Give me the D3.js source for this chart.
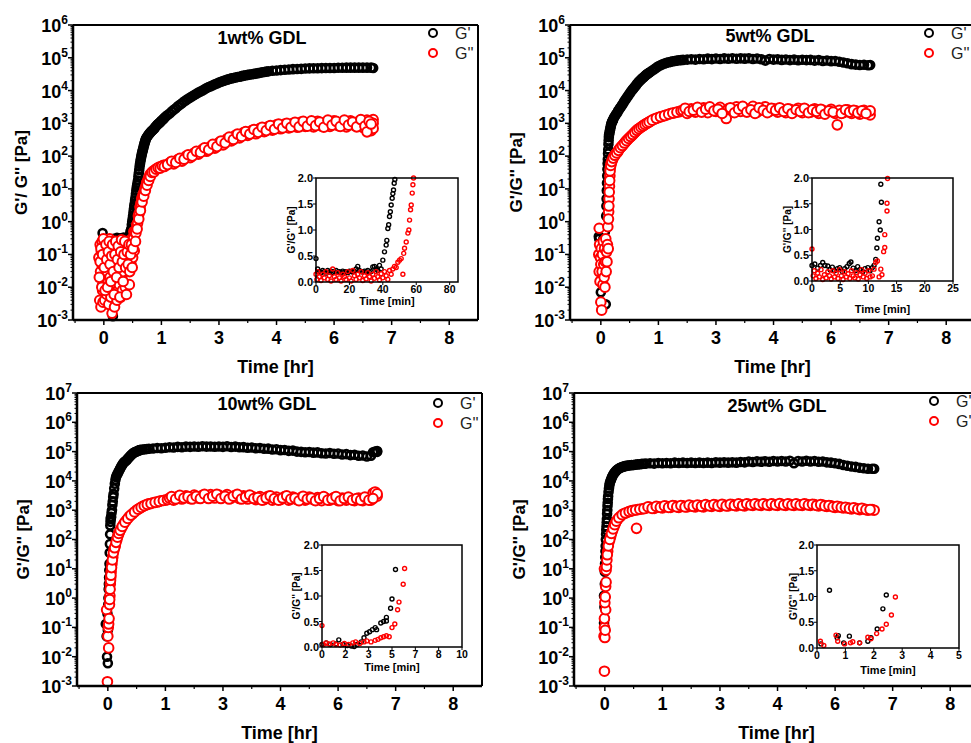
<!DOCTYPE html>
<html>
<head>
<meta charset="utf-8">
<script src="https://cdn.jsdelivr.net/npm/d3@7"></script>
<style>
  body { margin: 0; background: #fff; }
  svg text { font-family: "Liberation Sans", Arial, sans-serif; }
</style>
</head>
<body>
<svg id="chart" width="971" height="743"></svg>
<script>
"use strict";

// ---- labels ----
var panelTitles = ["1wt% GDL", "5wt% GDL", "10wt% GDL", "25wt% GDL"];
var seriesNames = ["G'", "G''"];
var mainTimeTicks = [0, 1.4, 2.8, 4.2, 5.6, 7.0, 8.4];
var mainTimeLabels = ["0", "1", "3", "4", "6", "7", "8"];
var decadesTop = [-3, -2, -1, 0, 1, 2, 3, 4, 5, 6];
var decadesBottom = [-3, -2, -1, 0, 1, 2, 3, 4, 5, 6, 7];
var insetYTicks = [0, 0.5, 1.0, 1.5, 2.0];
var inset1Ticks = [0, 20, 40, 60, 80];
var inset2Ticks = [0, 5, 10, 15, 20, 25];
var inset3Ticks = [0, 1.667, 3.333, 5, 6.667, 8.333, 10];
var inset3Labels = ["0", "2", "3", "5", "7", "8", "10"];
var inset4Ticks = [0, 1, 2, 3, 4, 5];

// ---- main series: [time hr, modulus Pa] ----
var p1Gp = [[-0.03,0.45],[-0.02,0.27],[-0.04,0.011],[0,0.12],[0.03,0.05],[0.06,0.2],[0.1,0.08],[0.14,0.15],[0.18,0.03],[0.22,0.0013],[0.24,0.3],[0.28,0.28],[0.32,0.32],[0.36,0.3],[0.4,0.31],[0.44,0.29],[0.48,0.33],[0.52,0.31],[0.56,0.3],[0.6,0.34],[0.63,0.4],
  [0.65,0.5],[0.67,0.6],[0.69,1.0],[0.71,1.5],[0.73,2.4],[0.75,3.6],[0.77,5.5],[0.79,9],[0.81,13],[0.83,18],[0.85,30],[0.87,48],[0.89,70],[0.91,96],[0.93,125],[0.95,155],[0.97,200],[0.99,245],[1.01,300],[1.03,350],[1.07,420],[1.11,490],[1.15,560],[1.19,630],[1.23,700],[1.28,850],[1.32,950],[1.36,1050],[1.4,1200],[1.45,1350],[1.5,1600],
  [0.66,0.55],[0.68,0.8],[0.7,1.2],[0.72,1.9],[0.74,3],[0.76,4.5],[0.78,7],[0.8,11],[0.82,15],[0.84,24],[0.86,38],[0.88,58],[0.9,82],[0.92,110],[0.94,140],[0.96,175],[0.98,220],[1.0,270],[1.02,325],[1.05,385],[1.09,455],[1.13,525],[1.17,595],[1.21,665],[1.25,770],[1.3,900],[1.34,1000],[1.38,1120],[1.43,1280],[1.47,1450],
  [1.6,2000],[1.7,2600],[1.8,3300],[1.9,4100],[2.0,5100],[2.1,6100],[2.2,7300],[2.3,8700],[2.4,10000],[2.5,12000],[2.6,13500],[2.7,15500],[2.8,17500],[2.9,19500],[3.0,21500],[3.1,23500],[3.2,25000],[3.3,26500],[3.4,28500],[3.5,30000],[3.6,31500],[3.7,33000],[3.8,35000],[3.9,37000],[4.0,38500],[4.1,40000],[4.2,41000],[4.3,42000],[4.4,43000],[4.5,44000],[4.6,45000],[4.7,45500],[4.8,46000],[4.9,47000],[5.0,47500],[5.1,48000],[5.2,48000],[5.3,48500],[5.4,49000],[5.5,49000],[5.6,49000],[5.7,49500],[5.8,49500],[5.9,50000],[6.0,50000],[6.1,50000],[6.2,50000],[6.3,50000],[6.4,50000],[6.5,50000],[6.55,49000],
  [1.55,1800],[1.65,2300],[1.75,2900],[1.85,3700],[1.95,4600],[2.05,5600],[2.15,6700],[2.25,8000],[2.35,9300],[2.45,11000],[2.55,12800],[2.65,14500],[2.75,16500],[2.85,18500],[2.95,20500],[3.05,22500],[3.15,24200],[3.25,25800],[3.35,27500],[3.45,29200],[3.55,30800],[3.65,32200],[3.75,34000],[3.85,36000],[3.95,37800]];
var p1Gpp = [[-0.12,0.08],[-0.1,0.004],[-0.09,0.2],[-0.08,0.03],[-0.07,0.0025],[-0.06,0.12],[-0.05,0.05],[-0.04,0.25],[-0.03,0.008],[-0.02,0.0035],[-0.01,0.06],[0,0.18],[0,0.02],[0.01,0.1],[0.02,0.004],[0.03,0.28],[0.04,0.012],[0.05,0.045],[0.06,0.15],[0.07,0.006],[0.08,0.03],[0.09,0.22],[0.1,0.09],[0.11,0.015],[0.12,0.003],[0.13,0.06],[0.14,0.3],[0.15,0.02],[0.16,0.1],[0.17,0.005],[0.18,0.04],[0.19,0.18],[0.2,0.0016],[0.21,0.07],[0.22,0.25],[0.23,0.01],[0.24,0.035],[0.25,0.12],[0.26,0.0025],[0.27,0.007],[0.28,0.2],[0.29,0.05],[0.3,0.015],[0.31,0.09],[0.32,0.004],[0.33,0.025],[0.34,0.15],[0.35,0.008],[0.36,0.06],[0.37,0.22],[0.38,0.012],[0.39,0.035],[0.4,0.1],[0.41,0.005],[0.42,0.18],[0.43,0.02],[0.44,0.05],[0.45,0.008],[0.46,0.12],[0.47,0.03],[0.48,0.2],[0.5,0.07],[0.52,0.01],[0.54,0.15],[0.56,0.04],[0.58,0.25],[0.6,0.1],[0.62,0.012],[0.64,0.18],[0.66,0.05],[0.68,0.3],[0.7,0.08],[0.72,0.3],[0.74,0.13],
  [-0.11,0.02],[-0.09,0.06],[-0.07,0.15],[-0.05,0.01],[-0.03,0.1],[-0.01,0.3],[0.01,0.04],[0.03,0.008],[0.05,0.2],[0.07,0.07],[0.09,0.01],[0.11,0.12],[0.13,0.25],[0.15,0.05],[0.17,0.015],[0.19,0.09],[0.21,0.2],[0.23,0.03],[0.25,0.006],[0.27,0.1],[0.29,0.25],[0.31,0.02],[0.33,0.07],[0.35,0.18],[0.37,0.04],[0.39,0.005],[0.41,0.12],[0.43,0.28],[0.45,0.06],[0.47,0.015],[0.49,0.1],[0.51,0.25],[0.53,0.04],[0.55,0.006],[0.57,0.12],[0.59,0.05],[0.61,0.2],[0.63,0.03],[0.65,0.1],[0.67,0.2],[0.69,0.04],[0.71,0.15],[0.73,0.5],
  [0.76,0.5],[0.78,0.45],[0.8,0.8],[0.82,0.9],[0.84,1.5],[0.86,1.8],[0.88,2.8],[0.9,3.6],[0.92,5],[0.94,5.8],[0.96,7],[0.98,8],[1.0,10],[1.02,12],[1.04,15],[1.06,17],[1.08,20],[1.1,23],[1.12,27],[1.15,30],[1.2,35],[1.25,38],[1.3,42],[1.35,46],[1.4,48],[1.45,52],[1.5,53],
  [0.77,0.25],[0.81,0.6],[0.85,1.2],[0.89,2.2],[0.93,4],[0.97,6],[1.01,9],[1.05,13],[1.09,18],[1.13,24],[1.17,32],[1.22,33],[1.27,40],[1.32,44],[1.37,43],[1.42,50],[1.47,48],
  [1.6,62],[1.7,58],[1.8,78],[1.9,70],[2.0,100],[2.1,90],[2.2,125],[2.3,115],[2.4,160],[2.5,140],[2.6,200],[2.7,175],[2.8,260],[2.9,220],[3.0,340],[3.1,290],[3.2,430],[3.3,360],[3.4,520],[3.5,430],[3.6,600],[3.7,480],[3.8,700],[3.9,560],[4.0,800],[4.1,620],[4.2,900],[4.3,680],[4.4,950],[4.5,720],[4.6,1000],[4.7,760],[4.8,1100],[4.9,800],[5.0,1050],[5.1,780],[5.2,1150],[5.3,820],[5.4,1100],[5.5,800],[5.6,1200],[5.7,850],[5.8,1100],[5.9,780],[6.0,1200],[6.1,850],[6.2,1150],[6.3,750],[6.4,1250],[6.5,600],[6.55,1300],[6.55,1000],[6.55,700],
  [1.55,55],[1.65,70],[1.75,64],[1.85,85],[1.95,80],[2.05,110],[2.15,100],[2.25,140],[2.35,130],[2.45,180],[2.55,155],[2.65,230],[2.75,195],[2.85,290],[2.95,250],[3.05,380],[3.15,320],[3.25,470],[3.35,400],[3.45,560],[3.55,470],[3.65,650],[3.75,530],[3.85,760],[3.95,600],[4.05,850],[4.15,660],[4.25,950],[4.35,720],[4.45,1000],[4.55,760],[4.65,1080],[4.75,780],[4.85,1150],[4.95,820],[5.05,1200],[5.15,850],[5.25,1100],[5.35,760],[5.45,1250],[5.55,880],[5.65,1150],[5.75,800],[5.85,1250],[5.95,880],[6.05,1100],[6.15,780],[6.25,1300],[6.35,820],[6.4,550],[6.45,1150],[6.5,950]];

var p2Gp = [[-0.05,0.35],[-0.04,0.3],[-0.03,0.03],[-0.02,0.2],[0,0.007],[0.02,0.1],[0.04,0.05],[0.06,0.3],[0.08,0.2],[0.1,0.5],[0.12,0.003],[0.13,1.5],[0.14,5],[0.15,15],[0.16,40],[0.17,80],[0.18,160],[0.19,300],[0.2,450],[0.22,600],[0.24,800],[0.26,1000],[0.28,1150],[0.3,1300],[0.35,1700],[0.4,2100],[0.45,2700],[0.5,3300],[0.55,4200],[0.6,5200],[0.65,6500],[0.7,8000],[0.75,9800],[0.8,11700],[0.85,14000],[0.9,17000],[0.95,20000],[1.0,23000],[1.05,26000],[1.1,30000],[1.15,33000],[1.2,37000],[1.3,45000],[1.4,55000],[1.5,63000],[1.6,70000],[1.7,75000],[1.8,80000],[1.9,84000],[2.0,86000],[2.1,88000],[2.2,90000],[2.3,88000],[2.4,92000],[2.5,90000],[2.6,94000],[2.7,91000],[2.8,95000],[2.9,92000],[3.0,96000],[3.1,93000],[3.2,97000],[3.3,93000],[3.4,96000],[3.5,94000],[3.6,97000],[3.7,92000],[3.8,95000],[3.9,90000],[4.0,82000],[4.1,92000],[4.2,88000],[4.3,90000],[4.4,86000],[4.5,89000],[4.6,85000],[4.7,88000],[4.8,84000],[4.9,87000],[5.0,85000],[5.1,86000],[5.2,82000],[5.3,85000],[5.4,80000],[5.5,83000],[5.6,79000],[5.7,80000],[5.8,76000],[5.9,72000],[6.0,68000],[6.1,64000],[6.2,62000],[6.3,60000],[6.4,61000],[6.5,59000],[6.55,60000],
  [0.135,3],[0.145,9],[0.155,25],[0.165,60],[0.175,120],[0.185,230],[0.195,380],[0.21,520],[0.23,700],[0.25,900],[0.27,1080],[0.29,1220],[0.32,1500],[0.37,1900],[0.42,2400],[0.47,3000],[0.52,3700],[0.57,4700],[0.62,5800],[0.67,7200],[0.72,8900],[0.77,10700],[0.82,12800],[0.87,15500],[0.92,18500],[0.97,21500],[1.02,24500],[1.07,28000],[1.12,31500],[1.17,35000],[1.25,41000],[1.35,50000],[1.45,59000],[1.55,67000],[1.65,73000],[1.75,78000],[1.85,82000],[1.95,85000]];
var p2Gpp = [[-0.05,0.1],[-0.04,0.63],[-0.04,0.03],[-0.03,0.2],[-0.02,0.015],[-0.01,0.08],[0,0.0035],[0,0.05],[0.01,0.15],[0.02,0.002],[0.03,0.03],[0.04,0.1],[0.05,0.012],[0.06,0.25],[0.07,0.05],[0.08,0.02],[0.09,0.15],[0.1,0.01],[0.11,0.06],[0.12,0.3],[0.13,0.03],[0.14,0.12],[0.15,0.06],[0.16,0.2],[0.17,0.7],[0.18,0.15],[0.19,2],[0.2,5],[0.21,12],[0.22,25],[0.23,45],[0.25,60],[0.28,76],[0.32,98],[0.36,115],[0.41,135],[0.45,165],[0.5,195],[0.55,230],[0.6,270],[0.65,320],[0.7,370],[0.75,420],[0.8,490],[0.85,570],[0.9,650],[0.95,720],[1.0,800],[1.05,880],[1.1,970],[1.15,1050],[1.2,1150],[1.3,1350],[1.4,1500],[1.5,1650],[1.6,1800],[1.7,2000],[1.8,2100],[1.9,2250],
  [0.185,1.2],[0.195,3],[0.205,8],[0.215,18],[0.225,35],[0.24,52],[0.265,68],[0.3,87],[0.34,106],[0.385,125],[0.43,150],[0.475,180],[0.525,210],[0.575,250],[0.625,295],[0.675,345],[0.725,395],[0.775,455],[0.825,530],[0.875,610],[0.925,685],[0.975,760],[1.025,840],[1.075,925],[1.125,1010],[1.175,1100],[1.25,1250],[1.35,1420],[1.45,1580],[1.55,1720],[1.65,1900],[1.75,2050],[1.85,2200],[1.95,2400],
  [2.0,2500],[2.1,2000],[2.2,2800],[2.3,2200],[2.4,2600],[2.5,3000],[2.6,2100],[2.7,2700],[2.8,2300],[2.9,3100],[3.0,2200],[3.05,1400],[3.1,2800],[3.2,2400],[3.3,3200],[3.4,2300],[3.5,2900],[3.6,2500],[3.7,3300],[3.8,2200],[3.9,2700],[4.0,3200],[4.1,2300],[4.2,2800],[4.3,2200],[4.4,2600],[4.5,2100],[4.6,2700],[4.7,2300],[4.8,2900],[4.9,2100],[5.0,2600],[5.1,2200],[5.2,2800],[5.3,2000],[5.4,2500],[5.5,2200],[5.6,2700],[5.75,900],[5.7,2000],[5.8,2500],[5.9,2100],[6.0,2600],[6.1,2000],[6.2,2400],[6.3,1900],[6.4,2500],[6.5,2200],[6.55,1800],[6.55,2400],
  [2.05,2900],[2.15,2300],[2.25,2500],[2.35,3100],[2.45,2200],[2.55,2700],[2.65,3200],[2.75,2400],[2.85,2700],[2.95,2000],[3.15,3000],[3.25,2100],[3.35,2700],[3.45,3300],[3.55,2200],[3.65,2600],[3.75,2000],[3.85,3000],[3.95,2500],[4.05,2100],[4.15,2900],[4.25,2500],[4.35,3000],[4.45,2300],[4.55,2800],[4.65,2000],[4.75,2600],[4.85,2300],[4.95,2900],[5.05,2100],[5.15,2600],[5.25,2300],[5.35,2700],[5.45,1900],[5.55,2400],[5.65,2200],[5.85,2000],[5.95,2600],[6.05,2200],[6.15,2500],[6.25,2100],[6.35,2400],[6.45,2000]];

var p3Gp = [[-0.02,0.01],[0,0.006],[-0.05,0.13],[-0.03,0.05],[-0.01,0.3],[0,0.08],[0.01,0.6],[0.02,2],[0.03,5],[0.04,15],[0.05,70],[0.06,300],[0.07,500],[0.08,600],[0.1,1000],[0.12,2000],[0.14,3600],[0.17,8000],[0.2,13500],[0.24,18000],[0.28,23000],[0.32,30000],[0.36,37000],[0.4,44000],[0.45,50000],[0.5,60000],[0.55,72000],[0.6,85000],[0.65,95000],[0.7,100000],[0.75,110000],[0.8,115000],[0.9,120000],[1.0,125000],
  [0.015,1],[0.025,3],[0.035,9],[0.045,35],[0.055,150],[0.065,400],[0.075,550],[0.09,800],[0.11,1500],[0.13,2800],[0.155,5500],[0.185,11000],[0.22,16000],[0.26,20500],[0.3,26500],[0.34,33500],[0.38,40500],[0.425,47000],[0.475,55000],[0.525,66000],[0.575,78000],[0.625,90000],[0.675,98000],[0.725,105000],[0.775,112000],[0.85,118000],[0.95,122000],
  [1.1,128000],[1.2,132000],[1.3,130000],[1.4,135000],[1.5,140000],[1.6,138000],[1.7,145000],[1.8,140000],[1.9,148000],[2.0,145000],[2.1,150000],[2.2,146000],[2.3,152000],[2.4,148000],[2.5,150000],[2.6,146000],[2.7,150000],[2.8,145000],[2.9,152000],[3.0,144000],[3.1,148000],[3.2,140000],[3.3,142000],[3.4,135000],[3.5,138000],[3.6,130000],[3.7,132000],[3.8,125000],[3.9,126000],[4.0,118000],[4.1,120000],[4.2,112000],[4.3,114000],[4.4,106000],[4.5,108000],[4.6,100000],[4.7,98000],[4.8,95000],[4.9,97000],[5.0,92000],[5.1,94000],[5.2,88000],[5.3,86000],[5.4,90000],[5.5,84000],[5.6,86000],[5.7,80000],[5.8,82000],[5.9,76000],[6.0,78000],[6.1,72000],[6.2,74000],[6.3,68000],[6.4,72000],[6.45,95000],[6.5,100000],[6.55,105000],[6.55,98000]];
var p3Gpp = [[-0.01,0.0014],[-0.03,0.4],[0,0.05],[0.01,0.1],[0.02,0.02],[0.02,0.13],[0.03,0.2],[0.04,0.6],[0.05,1.2],[0.06,3],[0.07,5],[0.08,8],[0.1,15],[0.12,25],[0.15,45],[0.18,60],[0.22,100],[0.25,140],[0.28,180],[0.32,230],[0.38,330],[0.45,450],[0.52,600],[0.6,750],[0.7,1000],[0.77,1150],[0.85,1350],[0.92,1500],[1.0,1650],[1.1,1800],[1.2,1900],[1.3,2100],[1.4,2200],
  [0.045,0.9],[0.055,2],[0.065,4],[0.075,6],[0.09,11],[0.11,20],[0.135,35],[0.165,52],[0.2,80],[0.235,120],[0.265,160],[0.3,205],[0.35,280],[0.415,390],[0.485,520],[0.56,680],[0.65,870],[0.735,1080],[0.81,1250],[0.885,1420],[0.96,1580],[1.05,1700],[1.15,1850],[1.25,2000],[1.35,2150],[1.45,2300],
  [1.5,2600],[1.6,2200],[1.7,2900],[1.8,2400],[1.9,3100],[2.0,2500],[2.1,3300],[2.2,2600],[2.3,3200],[2.4,2700],[2.5,3400],[2.6,2600],[2.7,3300],[2.8,2700],[2.9,3400],[3.0,2600],[3.1,3200],[3.2,2500],[3.3,3100],[3.4,2400],[3.5,3000],[3.6,2300],[3.7,2900],[3.8,2300],[3.9,3000],[4.0,2200],[4.1,2800],[4.2,2300],[4.3,2900],[4.4,2200],[4.5,2800],[4.6,2300],[4.7,2700],[4.8,2200],[4.9,2800],[5.0,2300],[5.1,2700],[5.2,2100],[5.3,2600],[5.4,2200],[5.5,2700],[5.6,2100],[5.7,2600],[5.8,2200],[5.9,2500],[6.0,2100],[6.1,2600],[6.2,2100],[6.3,2500],[6.4,2200],[6.45,3800],[6.5,4200],[6.55,3000],[6.55,3600],
  [1.55,2900],[1.65,2400],[1.75,3200],[1.85,2600],[1.95,2900],[2.05,2400],[2.15,3000],[2.25,2500],[2.35,3500],[2.45,2500],[2.55,3000],[2.65,3500],[2.75,2500],[2.85,3000],[2.95,2400],[3.05,3000],[3.15,3500],[3.25,2400],[3.35,2800],[3.45,3300],[3.55,2500],[3.65,2700],[3.75,2200],[3.85,2600],[3.95,3100],[4.05,2500],[4.15,2200],[4.25,2600],[4.35,3100],[4.45,2400],[4.55,2600],[4.65,2100],[4.75,3000],[4.85,2400],[4.95,2600],[5.05,2100],[5.15,2500],[5.25,2900],[5.35,2200],[5.45,2400],[5.55,2900],[5.65,2100],[5.75,2500],[5.85,2800],[5.95,2200],[6.05,2500],[6.15,2200],[6.25,2800],[6.35,2200],[6.45,2500]];

var p4Gp = [[-0.02,0.14],[-0.01,0.5],[-0.02,1.2],[0,3],[-0.01,0.2],[0,8],[0.01,25],[0.02,60],[0.03,150],[0.04,280],[0.05,500],[0.06,1000],[0.07,1800],[0.08,3000],[0.1,5500],[0.12,8300],[0.15,11000],[0.18,14000],[0.22,18000],[0.26,21000],[0.3,24000],[0.35,27000],[0.4,29000],[0.46,31000],[0.52,32500],[0.6,34000],[0.7,35000],[0.8,36500],[0.9,38000],[1.0,39000],
  [0.005,15],[0.015,40],[0.025,100],[0.035,210],[0.045,380],[0.055,750],[0.065,1400],[0.075,2400],[0.09,4200],[0.11,7000],[0.135,9700],[0.165,12500],[0.2,16000],[0.24,19500],[0.28,22500],[0.325,25500],[0.375,28000],[0.43,30000],[0.49,32000],[0.56,33500],[0.65,34500],[0.75,36000],[0.85,37000],[0.95,38500],
  [1.1,40000],[1.2,39000],[1.3,41000],[1.4,40000],[1.5,41000],[1.6,40000],[1.7,42000],[1.8,41000],[1.9,42000],[2.0,41000],[2.1,42000],[2.2,41000],[2.3,42000],[2.4,41000],[2.5,42000],[2.6,41000],[2.7,43000],[2.8,42000],[2.9,43000],[3.0,42000],[3.1,43000],[3.2,42000],[3.3,44000],[3.4,43000],[3.5,46000],[3.6,44000],[3.7,47000],[3.8,45000],[3.9,47000],[4.0,45000],[4.1,48000],[4.2,46000],[4.3,48000],[4.4,46000],[4.5,49000],[4.6,40000],[4.7,48000],[4.8,46000],[4.9,49000],[5.0,46000],[5.1,48000],[5.2,45000],[5.3,46000],[5.4,43000],[5.5,42000],[5.6,40000],[5.7,38000],[5.8,35000],[5.9,33000],[6.0,31000],[6.1,30000],[6.2,28000],[6.3,27000],[6.4,26000],[6.5,26000],[6.55,26000]];
var p4Gpp = [[-0.01,0.0032],[-0.02,0.05],[-0.01,0.1],[0,0.045],[0.01,0.08],[-0.01,0.2],[0.02,0.4],[0,0.7],[0.01,1.1],[0.02,2.5],[0.03,3.5],[-0.01,10],[0.03,9],[0.04,12],[0.05,20],[0.07,40],[0.1,80],[0.14,125],[0.18,190],[0.22,275],[0.26,370],[0.3,470],[0.38,620],[0.46,760],[0.55,850],[0.63,930],[0.71,1000],[0.77,240],[0.8,1050],[0.9,1100],[1.0,1170],
  [0.06,30],[0.085,60],[0.12,100],[0.16,160],[0.2,230],[0.24,320],[0.28,420],[0.34,550],[0.42,700],[0.5,800],[0.59,900],[0.67,970],[0.75,1020],[0.85,1080],[0.95,1130],
  [1.1,1250],[1.2,1150],[1.3,1300],[1.4,1200],[1.5,1350],[1.6,1250],[1.7,1400],[1.8,1250],[1.9,1400],[2.0,1300],[2.1,1400],[2.2,1300],[2.3,1450],[2.4,1300],[2.5,1450],[2.6,1350],[2.7,1500],[2.8,1350],[2.9,1500],[3.0,1400],[3.1,1550],[3.2,1400],[3.3,1550],[3.4,1400],[3.5,1600],[3.6,1450],[3.7,1600],[3.8,1450],[3.9,1600],[4.0,1450],[4.1,1600],[4.2,1450],[4.3,1600],[4.4,1450],[4.5,1600],[4.6,1450],[4.7,1550],[4.8,1450],[4.9,1600],[5.0,1450],[5.1,1550],[5.2,1400],[5.3,1500],[5.4,1350],[5.5,1400],[5.6,1250],[5.7,1300],[5.8,1200],[5.9,1200],[6.0,1100],[6.1,1150],[6.2,1050],[6.3,1100],[6.4,1000],[6.5,1050],[6.55,1000],
  [1.05,1300],[1.15,1150],[1.25,1350],[1.35,1250],[1.45,1400],[1.55,1250],[1.65,1450],[1.75,1300],[1.85,1450],[1.95,1300],[2.05,1500],[2.15,1350],[2.25,1500],[2.35,1350],[2.45,1550],[2.55,1400],[2.65,1550],[2.75,1400],[2.85,1600],[2.95,1400],[3.05,1600],[3.15,1450],[3.25,1650],[3.35,1450],[3.45,1650],[3.55,1500],[3.65,1650],[3.75,1500],[3.85,1650],[3.95,1500],[4.05,1650],[4.15,1500],[4.25,1700],[4.35,1500],[4.45,1650],[4.55,1500],[4.65,1650],[4.75,1500],[4.85,1650],[4.95,1500],[5.05,1600],[5.15,1450],[5.25,1550],[5.35,1400],[5.45,1450],[5.55,1300],[5.65,1350],[5.75,1250],[5.85,1250],[5.95,1150],[6.05,1200],[6.15,1100],[6.25,1150],[6.35,1050],[6.45,1050]];

// ---- inset series: [time min, modulus Pa] ----
var i1Gp = [[0,0.45],[1,0.25],[2,0.2],[3,0.18],[4,0.22],[5,0.2],[6,0.17],[7,0.22],[8,0.19],[9,0.21],[10,0.18],[11,0.2],[12,0.22],[13,0.19],[14,0.2],[15,0.18],[16,0.21],[17,0.19],[18,0.2],[19,0.18],[20,0.21],[21,0.2],[22,0.19],[23,0.21],[24,0.25],[25,0.3],[26,0.22],[27,0.2],[28,0.19],[29,0.21],[30,0.2],[31,0.22],[32,0.19],[33,0.2],[34,0.29],[35,0.3],[36,0.25],[37,0.22],[38,0.32],[39,0.25],[40,0.42],[41,0.58],[42,0.71],[42.4,0.8],[43,1.03],[43.5,1.1],[44,1.26],[44.5,1.35],[45,1.48],[45.6,1.61],[46,1.7],[46.4,1.77],[46.8,1.9],[47.2,1.97]];
var i1Gpp = [[0,0.15],[0.5,0.05],[1,0.2],[2,0.1],[3,0.03],[4,0.15],[5,0.08],[6,0.2],[7,0.05],[8,0.12],[9,0.02],[10,0.25],[11,0.1],[12,0.05],[13,0.18],[14,0.08],[15,0.02],[16,0.15],[17,0.1],[18,0.05],[19,0.2],[20,0.08],[21,0.02],[22,0.22],[23,0.12],[24,0.05],[25,0.15],[26,0.08],[27,0.2],[28,0.03],[29,0.12],[30,0.06],[31,0.18],[32,0.1],[33,0.02],[34,0.15],[35,0.07],[36,0.2],[37,0.1],[38,0.04],[39,0.16],[40,0.08],[41,0.2],[42,0.12],[43,0.05],[44,0.22],[45,0.15],[46,0.25],[47,0.3],[48,0.28],[49,0.38],[50,0.42],[51,0.45],[52,0.15],[52.5,0.55],[53,0.65],[54,0.77],[55,0.94],[55.6,1.0],[56,1.19],[56.6,1.39],[57,1.48],[57.6,1.71],[58,1.87],[58.4,2.0]];
var i2Gp = [[0,0.3],[0.5,0.33],[1,0.25],[1.5,0.3],[1.9,0.36],[2.3,0.3],[2.8,0.29],[3.2,0.22],[3.6,0.27],[4,0.2],[4.5,0.24],[4.9,0.26],[5.4,0.18],[5.8,0.24],[6.2,0.28],[6.6,0.34],[6.9,0.37],[7.3,0.25],[7.7,0.2],[8.1,0.28],[8.5,0.22],[9,0.18],[9.4,0.24],[9.9,0.26],[10.3,0.2],[10.7,0.26],[11,0.3],[11.3,0.42],[11.5,0.64],[11.6,0.83],[12.1,0.99],[11.9,1.15],[12.3,1.53],[12.2,1.88]];
var i2Gpp = [[0,0.62],[0.2,0.1],[0.4,0.2],[0.7,0.05],[1,0.15],[1.3,0.08],[1.6,0.22],[1.9,0.03],[2.2,0.12],[2.5,0.06],[2.8,0.18],[3.1,0.1],[3.4,0.04],[3.7,0.2],[4,0.08],[4.3,0.15],[4.6,0.05],[4.9,0.22],[5.2,0.1],[5.5,0.03],[5.8,0.18],[6.1,0.08],[6.4,0.14],[6.7,0.05],[7,0.2],[7.3,0.1],[7.6,0.06],[7.9,0.16],[8.2,0.04],[8.5,0.12],[8.8,0.22],[9.1,0.08],[9.4,0.15],[9.7,0.05],[10,0.2],[10.3,0.08],[10.7,0.1],[11,0.23],[11.3,0.36],[11.6,0.39],[11.9,0.08],[12.2,0.23],[12.4,0.12],[12.7,0.57],[12.9,0.65],[12.9,0.9],[13.3,1.36],[13.3,1.51],[13.4,1.99]];
var i3Gp = [[0,0.05],[0.3,0.08],[0.6,0.05],[1,0.06],[1.2,0.14],[1.5,0.05],[1.8,0.03],[2.1,0.02],[2.3,0.01],[2.5,0.05],[2.8,0.1],[3,0.18],[3.2,0.27],[3.4,0.3],[3.6,0.34],[3.8,0.38],[3.9,0.34],[4.2,0.47],[4.4,0.5],[4.6,0.51],[4.6,0.58],[4.9,0.76],[5.0,0.94],[5.25,1.52]];
var i3Gpp = [[0,0.42],[0.1,0.05],[0.3,0.08],[0.5,0.06],[0.8,0.08],[1,0.05],[1.3,0.04],[1.6,0.07],[1.9,0.05],[2.2,0.08],[2.4,0.1],[2.7,0.07],[3,0.1],[3.2,0.12],[3.5,0.1],[3.8,0.13],[4.0,0.15],[4.2,0.18],[4.4,0.2],[4.6,0.22],[4.8,0.2],[5.0,0.38],[5.2,0.45],[5.4,0.73],[5.5,0.88],[5.8,1.23],[5.9,1.54]];
var i4Gp = [[0.14,0.08],[0.44,1.12],[0.71,0.2],[0.75,0.24],[0.94,0.1],[1.14,0.23],[1.5,0.1],[1.79,0.13],[1.9,0.2],[2.12,0.37],[2.32,0.76],[2.44,1.03]];
var i4Gpp = [[0.12,0.13],[0.24,0.05],[0.67,0.25],[0.73,0.13],[0.97,0.08],[1.18,0.1],[1.26,0.12],[1.5,0.1],[1.79,0.21],[1.9,0.18],[2.1,0.28],[2.29,0.37],[2.44,0.46],[2.62,0.64],[2.76,0.99]];

var svg = d3.select("#chart");
var RED = "#ff0000";

var panels = [
  { title: panelTitles[0], gp: p1Gp, gpp: p1Gpp, left: 73, top: 25, bottom: 320, decades: decadesTop,
    yTitle: "G'/ G'' [Pa]", yTitleX: 21, titleX: 262, titleY: 44, legX: 433, legY: 33,
    inset: { gp: i1Gp, gpp: i1Gpp, left: 316, right: 458, top: 178, bottom: 282, max: 85,
             ticks: inset1Ticks, labels: null, yTitleX: 291, xTitleY: 305 } },
  { title: panelTitles[1], gp: p2Gp, gpp: p2Gpp, left: 570, top: 25, bottom: 320, decades: decadesTop,
    yTitle: "G'/G'' [Pa]", yTitleX: 516, titleX: 770, titleY: 42, legX: 929, legY: 33,
    inset: { gp: i2Gp, gpp: i2Gpp, left: 812, right: 953, top: 178, bottom: 281, max: 25,
             ticks: inset2Ticks, labels: null, yTitleX: 787, xTitleY: 313 } },
  { title: panelTitles[2], gp: p3Gp, gpp: p3Gpp, left: 77, top: 393, bottom: 686, decades: decadesBottom,
    yTitle: "G'/G'' [Pa]", yTitleX: 23, titleX: 267, titleY: 410, legX: 438, legY: 403,
    inset: { gp: i3Gp, gpp: i3Gpp, left: 322, right: 462, top: 545, bottom: 647, max: 10,
             ticks: inset3Ticks, labels: inset3Labels, yTitleX: 296, xTitleY: 671 } },
  { title: panelTitles[3], gp: p4Gp, gpp: p4Gpp, left: 574, top: 393, bottom: 686, decades: decadesBottom,
    yTitle: "G'/G'' [Pa]", yTitleX: 519, titleX: 777, titleY: 412, legX: 934, legY: 401,
    inset: { gp: i4Gp, gpp: i4Gpp, left: 817, right: 959, top: 545, bottom: 648, max: 5,
             ticks: inset4Ticks, labels: null, yTitleX: 793, xTitleY: 674 } }
];

function drawPanel(p) {
  var w = 405;
  var x = d3.scaleLinear().domain([-0.75, 9.1]).range([p.left, p.left + w]);
  var y = d3.scaleLog()
      .domain([Math.pow(10, p.decades[0]), Math.pow(10, p.decades[p.decades.length - 1])])
      .range([p.bottom, p.top]);
  var g = svg.append("g");

  // data: G' first, G'' drawn over it
  g.append("g").selectAll("circle").data(p.gp).enter().append("circle")
    .attr("cx", function (d) { return x(d[0]); })
    .attr("cy", function (d) { return y(d[1]); })
    .attr("r", 4).attr("fill", "none").attr("stroke", "#000").attr("stroke-width", 2.6);
  g.append("g").selectAll("circle").data(p.gpp).enter().append("circle")
    .attr("cx", function (d) { return x(d[0]); })
    .attr("cy", function (d) { return y(d[1]); })
    .attr("r", 4.8).attr("fill", "#fff").attr("stroke", RED).attr("stroke-width", 2);

  // frame
  var right = p.left + w;
  g.append("line").attr("x1", p.left).attr("x2", right).attr("y1", p.top).attr("y2", p.top)
    .attr("stroke", "#000").attr("stroke-width", 2);
  g.append("line").attr("x1", right).attr("x2", right).attr("y1", p.top).attr("y2", p.bottom)
    .attr("stroke", "#000").attr("stroke-width", 2);
  g.append("line").attr("x1", p.left).attr("x2", right).attr("y1", p.bottom).attr("y2", p.bottom)
    .attr("stroke", "#000").attr("stroke-width", 2.5);
  g.append("line").attr("x1", p.left).attr("x2", p.left).attr("y1", p.top).attr("y2", p.bottom)
    .attr("stroke", "#000").attr("stroke-width", 2.5);

  // y axis ticks and labels
  p.decades.forEach(function (k, i) {
    var yy = y(Math.pow(10, k));
    g.append("line").attr("x1", p.left - 5).attr("x2", p.left).attr("y1", yy).attr("y2", yy)
      .attr("stroke", "#000").attr("stroke-width", 1.5);
    if (i < p.decades.length - 1) {
      for (var m = 2; m < 10; m++) {
        var ym = y(m * Math.pow(10, k));
        g.append("line").attr("x1", p.left - 2.5).attr("x2", p.left).attr("y1", ym).attr("y2", ym)
          .attr("stroke", "#000").attr("stroke-width", 1);
      }
    }
    var t = g.append("text").attr("x", p.left - 5).attr("y", yy + 7)
      .attr("text-anchor", "end").attr("font-size", 18).attr("font-weight", "bold").text("10");
    t.append("tspan").attr("dy", -8).attr("font-size", 12).text(String(k));
  });

  // x axis ticks and labels
  mainTimeTicks.forEach(function (v, i) {
    g.append("line").attr("x1", x(v)).attr("x2", x(v)).attr("y1", p.bottom).attr("y2", p.bottom + 5)
      .attr("stroke", "#000").attr("stroke-width", 1.5);
    g.append("text").attr("x", x(v)).attr("y", p.bottom + 24).attr("text-anchor", "middle")
      .attr("font-size", 18).attr("font-weight", "bold").text(mainTimeLabels[i]);
  });
  [-0.7].concat(mainTimeTicks.map(function (v) { return v + 0.7; })).forEach(function (v) {
    if (v > -0.75 && v < 9.1) {
      g.append("line").attr("x1", x(v)).attr("x2", x(v)).attr("y1", p.bottom).attr("y2", p.bottom + 3)
        .attr("stroke", "#000").attr("stroke-width", 1.2);
    }
  });

  // titles
  g.append("text").attr("x", p.left + w / 2).attr("y", p.bottom + 53).attr("text-anchor", "middle")
    .attr("font-size", 18).attr("font-weight", "bold").text("Time [hr]");
  g.append("text").attr("transform", "translate(" + p.yTitleX + "," + ((p.top + p.bottom) / 2) + ") rotate(-90)")
    .attr("text-anchor", "middle").attr("dy", 6).attr("font-size", 17).attr("font-weight", "bold").text(p.yTitle);
  g.append("text").attr("x", p.titleX).attr("y", p.titleY).attr("text-anchor", "middle")
    .attr("font-size", 18).attr("font-weight", "bold").text(p.title);

  // legend
  [["#000", 0], [RED, 1]].forEach(function (s) {
    var ly = p.legY + s[1] * 20;
    g.append("circle").attr("cx", p.legX).attr("cy", ly).attr("r", 4)
      .attr("fill", "#fff").attr("stroke", s[0]).attr("stroke-width", 2);
    g.append("text").attr("x", p.legX + 22).attr("y", ly + 6).attr("font-size", 16)
      .attr("fill", "#222").text(seriesNames[s[1]]);
  });

  drawInset(g, p.inset);
}

function drawInset(g, s) {
  var x = d3.scaleLinear().domain([0, s.max]).range([s.left, s.right]);
  var y = d3.scaleLinear().domain([0, 2]).range([s.bottom, s.top]);
  var ig = g.append("g");
  ig.append("rect").attr("x", s.left).attr("y", s.top)
    .attr("width", s.right - s.left).attr("height", s.bottom - s.top)
    .attr("fill", "#fff").attr("stroke", "none");

  [[s.gp, "#000"], [s.gpp, RED]].forEach(function (ser) {
    ig.append("g").selectAll("circle").data(ser[0]).enter().append("circle")
      .attr("cx", function (d) { return x(d[0]); })
      .attr("cy", function (d) { return y(d[1]); })
      .attr("r", 2).attr("fill", "none").attr("stroke", ser[1]).attr("stroke-width", 1.4);
  });

  ig.append("rect").attr("x", s.left).attr("y", s.top)
    .attr("width", s.right - s.left).attr("height", s.bottom - s.top)
    .attr("fill", "none").attr("stroke", "#000").attr("stroke-width", 1.5);

  insetYTicks.forEach(function (v) {
    ig.append("line").attr("x1", s.left - 3).attr("x2", s.left).attr("y1", y(v)).attr("y2", y(v))
      .attr("stroke", "#000").attr("stroke-width", 1);
    ig.append("text").attr("x", s.left - 3).attr("y", y(v) + 4).attr("text-anchor", "end")
      .attr("font-size", 11).attr("font-weight", "bold").text(v.toFixed(1));
  });
  s.ticks.forEach(function (v, i) {
    ig.append("line").attr("x1", x(v)).attr("x2", x(v)).attr("y1", s.bottom).attr("y2", s.bottom + 3)
      .attr("stroke", "#000").attr("stroke-width", 1);
    ig.append("text").attr("x", x(v)).attr("y", s.bottom + 11).attr("text-anchor", "middle")
      .attr("font-size", 10.5).attr("font-weight", "bold")
      .text(s.labels ? s.labels[i] : String(v));
  });
  ig.append("text").attr("x", (s.left + s.right) / 2).attr("y", s.xTitleY).attr("text-anchor", "middle")
    .attr("font-size", 11).attr("font-weight", "bold").text("Time [min]");
  ig.append("text").attr("transform", "translate(" + s.yTitleX + "," + ((s.top + s.bottom) / 2) + ") rotate(-90)")
    .attr("text-anchor", "middle").attr("dy", 4).attr("font-size", 10).attr("font-weight", "bold")
    .text("G'/G'' [Pa]");
}

panels.forEach(drawPanel);
</script>
</body>
</html>
